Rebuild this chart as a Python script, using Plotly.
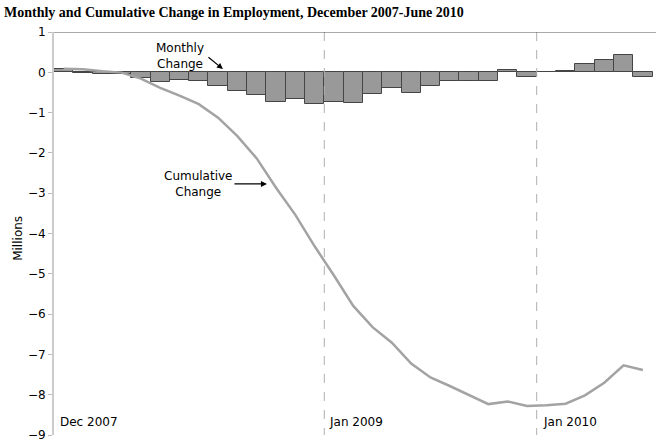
import plotly.graph_objects as go

months = ["Dec 2007", "Jan 2008", "Feb 2008", "Mar 2008", "Apr 2008", "May 2008", "Jun 2008",
          "Jul 2008", "Aug 2008", "Sep 2008", "Oct 2008", "Nov 2008", "Dec 2008",
          "Jan 2009", "Feb 2009", "Mar 2009", "Apr 2009", "May 2009", "Jun 2009",
          "Jul 2009", "Aug 2009", "Sep 2009", "Oct 2009", "Nov 2009", "Dec 2009",
          "Jan 2010", "Feb 2010", "Mar 2010", "Apr 2010", "May 2010", "Jun 2010"]

# Monthly change in employment (millions)
monthly = [0.085, -0.010, -0.050, -0.033, -0.149, -0.231, -0.193,
           -0.210, -0.334, -0.458, -0.554, -0.728, -0.673,
           -0.779, -0.726, -0.753, -0.528, -0.387, -0.515,
           -0.346, -0.212, -0.225, -0.224, 0.064, -0.109,
           0.014, 0.039, 0.208, 0.313, 0.432, -0.115]

# Cumulative change since Dec 2007 (millions)
cumulative = [0.085, 0.075, 0.025, -0.008, -0.157, -0.388, -0.581,
              -0.791, -1.125, -1.583, -2.137, -2.865, -3.538,
              -4.317, -5.043, -5.796, -6.324, -6.711, -7.226,
              -7.572, -7.784, -8.009, -8.233, -8.169, -8.278,
              -8.264, -8.225, -8.017, -7.704, -7.272, -7.387]

y_ticks = [1, 0, -1, -2, -3, -4, -5, -6, -7, -8, -9]
marker_labels = ["Dec 2007", "Jan 2009", "Jan 2010"]
marker_pos = [-0.29, 13.64, 24.72]
divider_pos = [13.5, 24.5]

x = list(range(len(months)))
FONT = "DejaVu Sans"

fig = go.Figure()
fig.add_trace(go.Bar(
    x=x, y=monthly, width=1.0,
    marker=dict(color="#999999", line=dict(color="#454545", width=1)),
    hoverinfo="skip", showlegend=False,
))
fig.add_trace(go.Scatter(
    x=x, y=cumulative, mode="lines",
    line=dict(color="#a3a3a3", width=2.5),
    hoverinfo="skip", showlegend=False,
))

for d in divider_pos:
    fig.add_shape(type="line", xref="x", yref="y", x0=d, x1=d, y0=1, y1=-9,
                  line=dict(color="#b0b0b0", width=1, dash="dash"), layer="above")

# top border
fig.add_shape(type="line", xref="paper", yref="y", x0=0, x1=1, y0=1, y1=1,
              line=dict(color="#555555", width=1))

for lab, pos in zip(marker_labels, marker_pos):
    fig.add_annotation(x=pos, y=-8.67, xref="x", yref="y", text=lab, showarrow=False,
                       xanchor="left", yanchor="middle",
                       font=dict(family=FONT, size=12, color="#000"))

# Monthly Change label + arrow
fig.add_annotation(x=6.03, y=0.40, xref="x", yref="y", text="Monthly<br>Change",
                   showarrow=False, font=dict(family=FONT, size=12, color="#000"))
fig.add_annotation(x=8.25, y=0.08, xref="x", yref="y", text="", showarrow=True,
                   ax=-16, ay=-13, arrowhead=2, arrowsize=1, arrowwidth=1.2, arrowcolor="#000")

# Cumulative Change label + arrow
fig.add_annotation(x=6.96, y=-2.77, xref="x", yref="y", text="Cumulative<br>Change",
                   showarrow=False, font=dict(family=FONT, size=12, color="#000"))
fig.add_annotation(x=10.53, y=-2.77, xref="x", yref="y", text="", showarrow=True,
                   ax=-34, ay=0, arrowhead=2, arrowsize=1, arrowwidth=1.2, arrowcolor="#000")

# y axis title
fig.add_annotation(x=-0.06, y=0.489, xref="paper", yref="paper", text="Millions",
                   showarrow=False, textangle=-90, xanchor="center", yanchor="middle",
                   font=dict(family=FONT, size=12, color="#000"))

fig.update_layout(
    width=660, height=447,
    margin=dict(l=54, r=4, t=32, b=12),
    paper_bgcolor="white", plot_bgcolor="white",
    bargap=0,
    title=dict(text="<b>Monthly and Cumulative Change in Employment, December 2007-June 2010</b>",
               xref="container", yref="container", x=4/660, y=1 - 12/447,
               xanchor="left", yanchor="middle",
               font=dict(family="Liberation Serif", size=14, color="#000")),
    xaxis=dict(range=[-0.5, 30.68], showticklabels=False, showgrid=False,
               zeroline=False, showline=False, ticks=""),
    yaxis=dict(range=[-9, 1], tickvals=y_ticks, showgrid=False, zeroline=False,
               showline=True, linecolor="#cccccc", linewidth=2,
               ticks="outside", ticklen=4, tickcolor="#bbbbbb",
               tickfont=dict(family=FONT, size=12, color="#000")),
)

fig.write_html("out.html")
